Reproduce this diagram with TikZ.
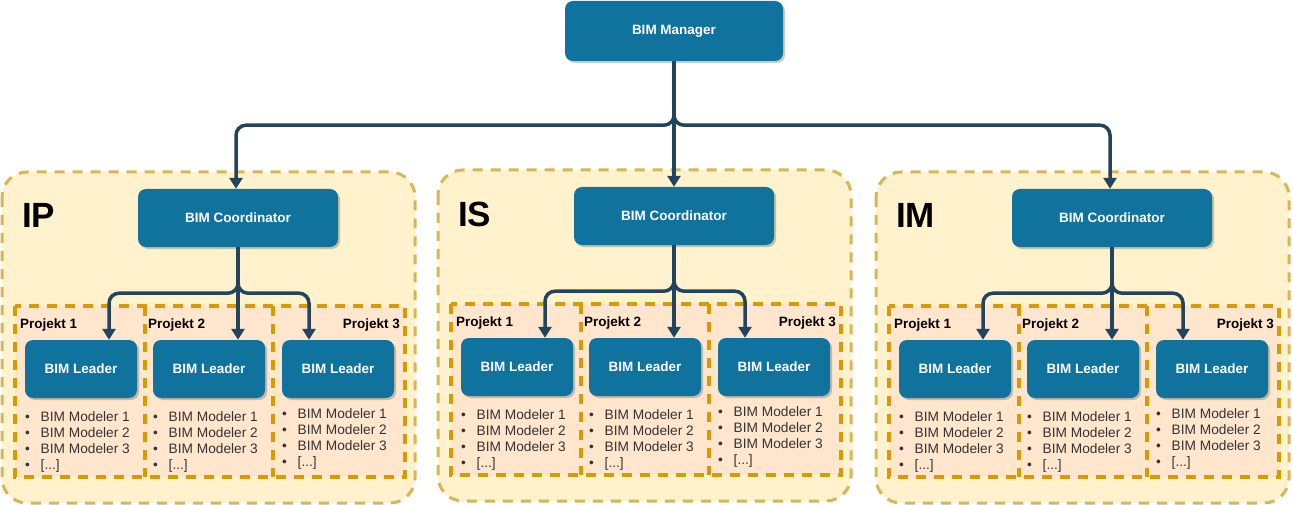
\documentclass[tikz,border=0pt]{standalone}
\usepackage{fontspec}
\setmainfont{Liberation Sans}
\usetikzlibrary{arrows.meta,shadows,positioning}
\definecolor{boxblue}{HTML}{10739E}
\definecolor{linedark}{HTML}{23445D}
\definecolor{grpfill}{HTML}{FFF2CC}
\definecolor{grpline}{HTML}{D6B656}
\definecolor{prjfill}{HTML}{FFE6CC}
\definecolor{prjline}{HTML}{D79B00}
\definecolor{listtext}{HTML}{333333}
\newcommand{\bimitem}[1]{\makebox[15.5pt][l]{\textbullet}#1}
\tikzset{
  bimbox/.style={fill=boxblue,rounded corners=8pt,text=white,font=\fontsize{13.5}{16}\selectfont\bfseries,drop shadow={shadow xshift=2pt,shadow yshift=-2pt,opacity=0.3,fill=black!70}},
  link/.style={draw=linedark,line width=3.5pt,rounded corners=10pt,-{Triangle[length=11pt,width=13pt]}},
  grpbox/.style={fill=grpfill,draw=grpline,line width=3pt,dash pattern=on 10pt off 8pt,rounded corners=25pt},
  prjbox/.style={draw=prjline,line width=3.5pt,dash pattern=on 10pt off 8pt},
  grplabel/.style={inner sep=0pt,font=\fontsize{35}{40}\selectfont\bfseries},
  prjlabel/.style={inner sep=0pt,font=\fontsize{13.5}{16}\selectfont\bfseries},
  modlist/.style={inner sep=0pt,align=left,text=listtext,anchor=base west,font=\fontsize{13.7}{16}\selectfont}
}
\begin{document}
\begin{tikzpicture}[x=1pt,y=-1pt]
\useasboundingbox (0,0) rectangle (1293,505);
\node[bimbox,minimum width=218pt,minimum height=60pt] (man) at (674,31) {BIM Manager};
% one group per department, shifted copies
\foreach \g/\dx/\dy in {IP/0/0,IS/436/-2,IM/874/0}{
\begin{scope}[shift={(\dx,\dy)}]
\draw[grpbox] (2,172) rectangle (415,503);
\node[grplabel,anchor=base west] (lbl\g) at (22,228) {\g};
\node[bimbox,minimum width=200pt,minimum height=58pt] (coord\g) at (238,218) {BIM Coordinator};
\fill[prjfill] (15,306) rectangle (405,477);
\draw[prjbox] (15,306) rectangle (405,477) (145,306)--(145,477) (273,306)--(273,477);
\node[prjlabel,anchor=base west] (prj\g1) at (20,328) {Projekt 1};
\node[prjlabel,anchor=base west] (prj\g2) at (148,328) {Projekt 2};
\node[prjlabel,anchor=base east] (prj\g3) at (400,328) {Projekt 3};
\foreach \p/\cx in {1/81,2/209,3/338}{\node[bimbox,minimum width=112pt,minimum height=58pt] (lead\g\p) at (\cx,369) {BIM Leader};}
% base of a list node is its last line
\node[modlist] (list\g1) at (25,469) {\bimitem{BIM Modeler 1}\\\bimitem{BIM Modeler 2}\\\bimitem{BIM Modeler 3}\\\bimitem{[...]}};
\node[modlist] (list\g2) at (153,469) {\bimitem{BIM Modeler 1}\\\bimitem{BIM Modeler 2}\\\bimitem{BIM Modeler 3}\\\bimitem{[...]}};
\node[modlist] (list\g3) at (282,466) {\bimitem{BIM Modeler 1}\\\bimitem{BIM Modeler 2}\\\bimitem{BIM Modeler 3}\\\bimitem{[...]}};
\end{scope}
\draw[link] (coord\g.south) -- ++(0,46) -| ([xshift=28pt]lead\g1.north);
\draw[link] (coord\g.south) -- (coord\g.south |- lead\g2.north);
\draw[link] (coord\g.south) -- ++(0,46) -| ([xshift=-29pt]lead\g3.north);
}
\draw[link] (man.south) -- ++(0,64) -| ([xshift=-2pt]coordIP.north);
\draw[link] (man.south) -- (coordIS.north);
\draw[link] (man.south) -- ++(0,64) -| ([xshift=-2pt]coordIM.north);
\end{tikzpicture}
\end{document}
